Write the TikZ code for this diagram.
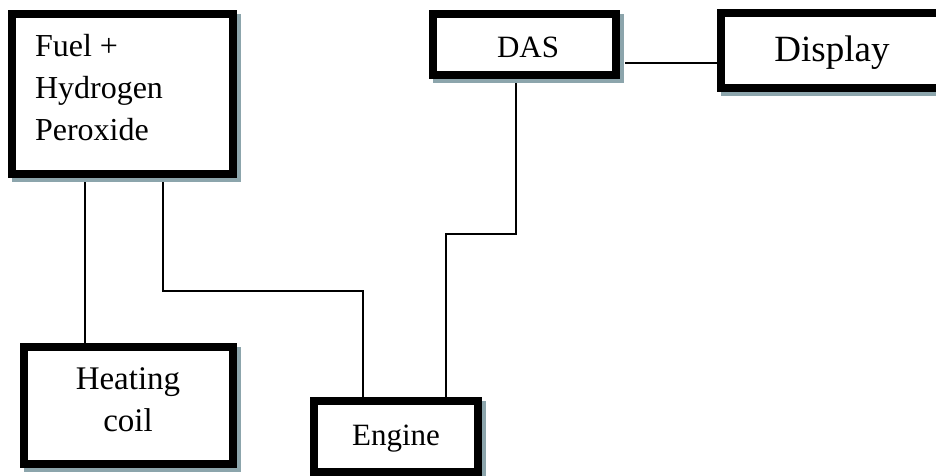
\documentclass[tikz,border=0pt]{standalone}
\usepackage{fontspec}
\setmainfont{Liberation Serif}
\usetikzlibrary{shadows}
\pgfdeclarelayer{background}
\pgfsetlayers{background,main}
\definecolor{shadowc}{RGB}{140,165,172}
\tikzset{
  box/.style={draw=black, line width=8pt, fill=white, inner sep=0pt,
    drop shadow={shadow xshift=4pt, shadow yshift=-4pt, fill=shadowc,
      draw=shadowc, line width=8pt, opacity=1}},
  lbl/.style={inner sep=0pt, outer sep=0pt},
  wire/.style={draw=black, line width=1.2pt},
}
\begin{document}
\begin{tikzpicture}[x=1pt, y=-1pt]
\useasboundingbox (0,0) rectangle (936,475);

% boxes
\node[box, minimum width=221pt, minimum height=160pt] (fuel) at (122.5,94) {};
\node[box, minimum width=209pt, minimum height=117pt] (heat) at (128.5,405.5) {};
\node[box, minimum width=164pt, minimum height=71pt] (engine) at (396,436) {};
\node[box, minimum width=183pt, minimum height=61pt] (das) at (524.5,44.5) {};
\node[box, minimum width=255pt, minimum height=75pt] (display) at (848.5,50.5) {};

% labels
\node[lbl, anchor=north west, align=left, font=\fontsize{32}{42}\selectfont]
  (fuel-t) at (35,34) {Fuel +\\Hydrogen\\Peroxide};
\node[lbl, anchor=north, align=center, font=\fontsize{33}{42}\selectfont]
  (heat-t) at (128,367.5) {Heating\\coil};
\node[lbl, anchor=base, font=\fontsize{31}{36}\selectfont] (engine-t) at (396,445) {Engine};
\node[lbl, anchor=base, font=\fontsize{31}{36}\selectfont] (das-t) at (528,57) {DAS};
\node[lbl, anchor=base, font=\fontsize{37}{42}\selectfont] (display-t) at (832,61) {Display};

% connectors, kept below the boxes and their shadows
\begin{pgfonlayer}{background}
\draw[wire] ([xshift=77pt]fuel.south west) -- ([xshift=77pt]fuel.south west |- heat.north);
\draw[wire] ([xshift=155pt]fuel.south west) |- (250,291) -| ([xshift=53pt]engine.north west);
\draw[wire] ([xshift=87pt]das.south west) |- (480,234) -| ([xshift=136pt]engine.north west);
\draw[wire] ([xshift=5pt,yshift=-18.5pt]das.east) -- ([xshift=5pt,yshift=-18.5pt]das.east -| display.west);
\end{pgfonlayer}
\end{tikzpicture}
\end{document}
